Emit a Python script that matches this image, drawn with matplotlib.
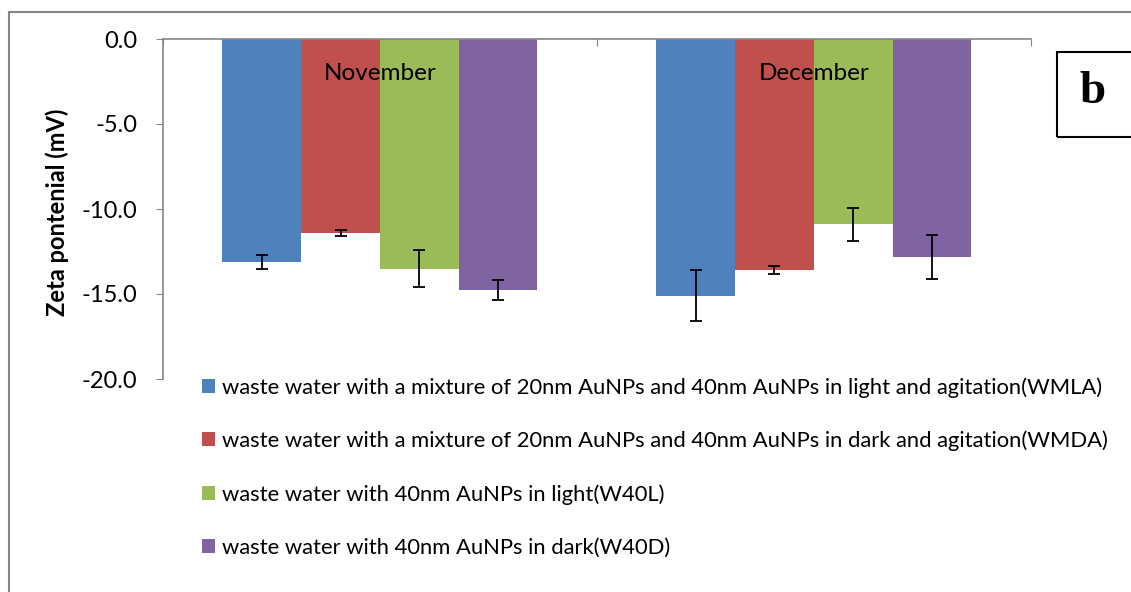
import numpy as np
import matplotlib
matplotlib.use("Agg")
import matplotlib.pyplot as plt
from matplotlib.patches import Rectangle
from matplotlib.transforms import blended_transform_factory

# ── data ─────────────────────────────────────────────────────────────────────
months = ["November", "December"]
series_labels = [
    "waste water with a mixture of 20nm AuNPs and 40nm AuNPs in light and agitation(WMLA)",
    "waste water with a mixture of 20nm AuNPs and 40nm AuNPs in dark and agitation(WMDA)",
    "waste water with 40nm AuNPs in light(W40L)",
    "waste water with 40nm AuNPs in dark(W40D)",
]
wmla = [-13.1, -15.1]
wmda = [-11.4, -13.6]
w40l = [-13.5, -10.9]
w40d = [-14.75, -12.8]
wmla_err = [0.4, 1.5]
wmda_err = [0.17, 0.25]
w40l_err = [1.1, 0.98]
w40d_err = [0.58, 1.3]
yticks = [0.0, -5.0, -10.0, -15.0, -20.0]

colors = ["#4F81BD", "#C0504D", "#9BBB59", "#8064A2"]
font = ["Lato", "DejaVu Sans"]
plt.rcParams["font.family"] = font

W, H = 1131, 592
fig = plt.figure(figsize=(W / 100, H / 100), dpi=100)
ax = fig.add_axes([163 / W, 1 - 379 / H, (1030.7 - 163) / W, (379 - 39) / H])

x = np.arange(len(months))
width = 0.1815
values = [wmla, wmda, w40l, w40d]
errors = [wmla_err, wmda_err, w40l_err, w40d_err]
for i, (vals, errs) in enumerate(zip(values, errors)):
    ax.bar(x + (i - 1.5) * width, vals, width, color=colors[i],
           label=series_labels[i], zorder=2)
    ax.errorbar(x + (i - 1.5) * width, vals, yerr=errs, fmt="none",
                ecolor="black", elinewidth=1.3, capsize=4.5, capthick=1.3, zorder=3)

ax.set_xlim(-0.5, 1.5)
ax.set_ylim(-20, 0)
ax.set_yticks(yticks)
ax.set_yticklabels([f"{v:.1f}" for v in yticks], fontsize=17)
ax.tick_params(axis="y", direction="out", length=5, color="#868686", pad=13.5)

# category boundaries as tick marks pointing into the plot from the top axis
ax.xaxis.set_ticks_position("top")
ax.set_xticks([-0.5, 0.5, 1.5])
ax.set_xticklabels([])
ax.tick_params(axis="x", direction="in", length=5, color="#868686")

for side in ["right", "bottom"]:
    ax.spines[side].set_visible(False)
for side in ["left", "top"]:
    ax.spines[side].set_color("#868686")
    ax.spines[side].set_linewidth(1.2)

trans = blended_transform_factory(ax.transData, ax.transAxes)
for xi, m in zip(x, months):
    ax.text(xi, 1 - (73 - 39) / 340, m, transform=trans, ha="center",
            va="center", fontsize=17.5, zorder=4)

fig.text(57 / W, 1 - 212 / H, "Zeta pontenial (mV)", rotation=90,
         ha="center", va="center", fontsize=17, fontweight="bold")

# legend
handles, labels = ax.get_legend_handles_labels()
fig.legend(handles, labels, loc="upper left", bbox_to_anchor=(202 / W, 1 - 377 / H),
           frameon=False, fontsize=15.8, handlelength=0.6, handleheight=0.6,
           handletextpad=0.3, labelspacing=1.5, borderaxespad=0, borderpad=0)

# chart-area border (left and top are the visible edges)
fig.patches.append(Rectangle((9 / W, -0.1), 1.2, 1 - 12 / H + 0.1,
                             transform=fig.transFigure, fill=False,
                             edgecolor="#868686", linewidth=1.5))

# panel letter box
fig.patches.append(Rectangle((1057 / W, 1 - 137 / H), 0.1, 85 / H,
                             transform=fig.transFigure, fill=False,
                             edgecolor="black", linewidth=1.5))
fig.text(1093 / W, 1 - 92 / H, "b", ha="center", va="center", fontsize=34,
         fontweight="bold", family="Liberation Serif")

fig.savefig("out.png", dpi=100)
